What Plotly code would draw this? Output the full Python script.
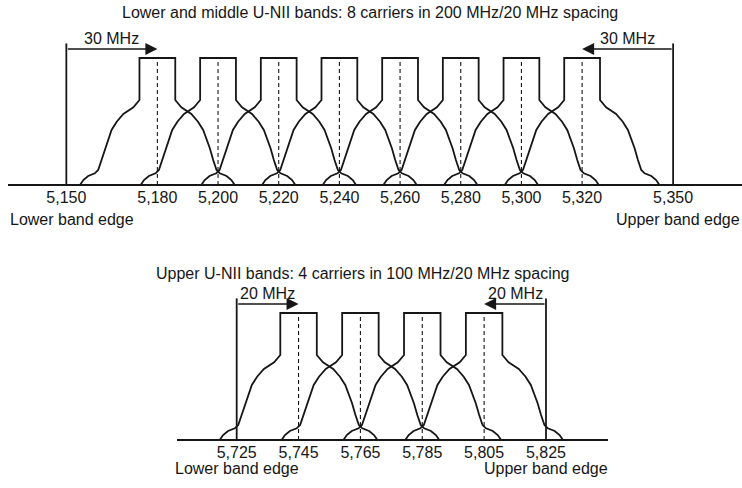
import plotly.graph_objects as go

# Carrier centre frequencies (MHz)
low_mid_carriers = [5180, 5200, 5220, 5240, 5260, 5280, 5300, 5320]
upper_carriers = [5745, 5765, 5785, 5805]

# Band edges (MHz)
low_mid_edges = [5150, 5350]
upper_edges = [5725, 5825]

# Labelled frequencies on each axis
low_mid_ticks = [5150, 5180, 5200, 5220, 5240, 5260, 5280, 5300, 5320, 5350]
upper_ticks = [5725, 5745, 5765, 5785, 5805, 5825]

# Spectral mask: relative level (top = 100) vs offset from carrier (MHz)
mask_top = 100
mask_half_width = 5.9
skirt_off = [5.9, 6.3, 7.9, 11.2, 13.4, 15.1, 16.2, 17.3, 18.4, 19.5, 20.6, 22.8, 24.4, 25.5]
skirt_lvl = [66.9, 65.6, 61.2, 55.9, 49.8, 43.3, 36.8, 28.9, 19.7, 11.8, 9.2, 7.1, 3.9, 0]

edge_lvl = 111.5
arrow_lvl = 107
label_lvl = 115.7

INK = "#161616"
FONT = "Liberation Sans, Arial, sans-serif"
FS = 16
PX_PER_UNIT = 1.27  # vertical scale of the drawing


def mask_xy(c):
    xs = [c - o for o in reversed(skirt_off)] + [c - mask_half_width, c + mask_half_width] + [c + o for o in skirt_off]
    ys = list(reversed(skirt_lvl)) + [mask_top, mask_top] + skirt_lvl
    return xs, ys


def add_band(fig, carriers, edges, xa, ya, gap_label):
    mx, my, dx, dy = [], [], [], []
    for c in carriers:
        xs, ys = mask_xy(c)
        mx += xs + [None]
        my += ys + [None]
        dx += [c, c, None]
        dy += [0, mask_top, None]
    fig.add_trace(go.Scatter(x=dx, y=dy, mode="lines", xaxis=xa, yaxis=ya,
                             line=dict(color=INK, width=1.1, dash="4px,3px")))
    fig.add_trace(go.Scatter(x=mx, y=my, mode="lines", xaxis=xa, yaxis=ya,
                             line=dict(color=INK, width=1.8)))
    ex, ey = [], []
    for e in edges:
        ex += [e, e, None]
        ey += [0, edge_lvl, None]
    fig.add_trace(go.Scatter(x=ex, y=ey, mode="lines", xaxis=xa, yaxis=ya,
                             line=dict(color=INK, width=1.8)))

    # arrows from band edges to the outer carriers
    for e, c in [(edges[0], carriers[0]), (edges[1], carriers[-1])]:
        fig.add_annotation(x=c, y=arrow_lvl, ax=e, ay=arrow_lvl,
                           xref=xa, yref=ya, axref=xa, ayref=ya,
                           text="", showarrow=True, arrowhead=2,
                           arrowsize=1.6, arrowwidth=1.5, arrowcolor=INK)
        fig.add_annotation(x=(c + e) / 2, y=label_lvl, xref=xa, yref=ya,
                           text=gap_label, showarrow=False,
                           font=dict(family=FONT, size=FS, color=INK))


fig = go.Figure()
add_band(fig, low_mid_carriers, low_mid_edges, "x", "y", "30 MHz")
add_band(fig, upper_carriers, upper_edges, "x2", "y2", "20 MHz")

W, H = 742, 488
top_base, bot_base = 185, 440  # baseline pixel rows

axis_common = dict(showgrid=False, zeroline=False, showline=True, linecolor=INK,
                   linewidth=2, ticks="", anchor="free", automargin=False,
                   ticklabelstandoff=-2,
                   tickfont=dict(family=FONT, size=FS, color=INK))

fig.update_layout(
    width=W, height=H,
    margin=dict(l=0, r=0, t=0, b=0),
    paper_bgcolor="white", plot_bgcolor="rgba(0,0,0,0)",
    showlegend=False,
    xaxis=dict(axis_common, domain=[8 / W, 1], range=[5130.77, 5372.70],
               position=1 - top_base / H,
               tickvals=low_mid_ticks, ticktext=[f"{v:,}" for v in low_mid_ticks]),
    yaxis=dict(domain=[0, 1], visible=False, anchor="free", position=0,
               range=[-(H - top_base) / PX_PER_UNIT, top_base / PX_PER_UNIT]),
    xaxis2=dict(axis_common, domain=[177 / W, 608 / W], range=[5705.70, 5845.05],
                position=1 - bot_base / H,
                tickvals=upper_ticks, ticktext=[f"{v:,}" for v in upper_ticks]),
    yaxis2=dict(domain=[0, 1], visible=False, anchor="free", position=0,
                range=[-(H - bot_base) / PX_PER_UNIT, bot_base / PX_PER_UNIT]),
)

texts = [
    ("Lower and middle U-NII bands: 8 carriers in 200 MHz/20 MHz spacing", 370 / W, 12, "center"),
    ("Lower band edge", 8 / W, 220, "left"),
    ("Upper band edge", 1.0, 220, "right"),
    ("Upper U-NII bands: 4 carriers in 100 MHz/20 MHz spacing", 363 / W, 273, "center"),
    ("Lower band edge", 173 / W, 468, "left"),
    ("Upper band edge", 610 / W, 468, "right"),
]
for t, x, y, anchor in texts:
    fig.add_annotation(text=t, x=x, y=1 - y / H, xref="paper", yref="paper",
                       xanchor=anchor, yanchor="middle", showarrow=False,
                       font=dict(family=FONT, size=FS, color=INK))

# the page's default body margin would push the 742x488 figure off the window
fig.write_html("out.html", config={"displayModeBar": False},
               post_script="document.body.style.margin='0';")
